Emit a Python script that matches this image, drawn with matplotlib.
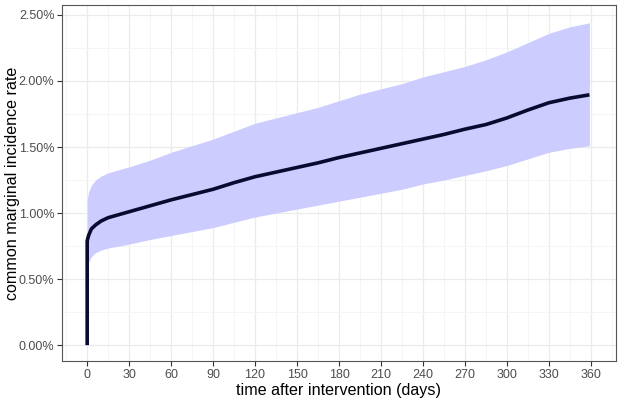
import numpy as np
from matplotlib import pyplot as plt
from matplotlib.ticker import MultipleLocator, FuncFormatter

plt.rcParams['font.family'] = ['Liberation Sans', 'DejaVu Sans']

# mean curve (percent)
mean_days = [0, 0, 1, 3, 6, 10, 15, 20, 30, 45, 60, 75, 90, 105, 120, 135, 150, 165, 180,
             195, 210, 225, 240, 255, 270, 285, 300, 315, 330, 345, 359]
mean_rate = [0, 0.79, 0.83, 0.88, 0.91, 0.94, 0.965, 0.98, 1.01, 1.055, 1.10, 1.14, 1.18, 1.23, 1.275,
             1.31, 1.345, 1.38, 1.42, 1.455, 1.49, 1.525, 1.56, 1.595, 1.635, 1.67, 1.72, 1.78, 1.835, 1.87, 1.895]

# uncertainty band (percent)
band_days = [0, 1, 3, 6, 10, 15, 20, 30, 45, 60, 75, 90, 105, 120, 135, 150, 165, 180,
             195, 210, 225, 240, 255, 270, 285, 300, 315, 330, 345, 359]
band_low = [0.58, 0.63, 0.67, 0.70, 0.72, 0.735, 0.745, 0.765, 0.80, 0.83, 0.86, 0.89, 0.93, 0.97,
            1.00, 1.03, 1.06, 1.09, 1.12, 1.15, 1.18, 1.22, 1.25, 1.285, 1.32, 1.36, 1.41, 1.46, 1.49, 1.51]
band_high = [1.10, 1.16, 1.21, 1.25, 1.28, 1.305, 1.32, 1.35, 1.40, 1.46, 1.51, 1.56, 1.62, 1.68,
             1.72, 1.76, 1.80, 1.85, 1.90, 1.94, 1.98, 2.03, 2.07, 2.11, 2.16, 2.22, 2.29, 2.36, 2.41, 2.44]

fig = plt.figure(figsize=(6.23, 4.03), dpi=100)
ax = fig.add_axes([62/623, 42/403, 554/623, 356/403])

ax.fill_between(band_days, band_low, band_high, color='#ccccff', linewidth=0, zorder=2)
ax.plot(mean_days, mean_rate, color='#0a0a30', lw=2.6, solid_capstyle='butt', zorder=3)

ax.set_xlim(-18, 378)
ax.set_ylim(-0.12, 2.575)
ax.xaxis.set_major_locator(MultipleLocator(30))
ax.xaxis.set_minor_locator(MultipleLocator(15))
ax.yaxis.set_major_locator(MultipleLocator(0.5))
ax.yaxis.set_minor_locator(MultipleLocator(0.25))
ax.yaxis.set_major_formatter(FuncFormatter(lambda v, p: '%.2f%%' % v))

ax.grid(which='major', color='#ebebeb', lw=0.9, zorder=0)
ax.grid(which='minor', color='#f4f4f4', lw=0.6, zorder=0)
ax.set_axisbelow(True)
for s in ax.spines.values():
    s.set_color('#555555')
    s.set_linewidth(0.8)
ax.tick_params(which='major', length=3.5, color='#333333', labelcolor='#4d4d4d', labelsize=9, pad=2)
ax.tick_params(which='minor', length=0)

ax.set_xlabel('time after intervention (days)', fontsize=11.6, labelpad=2)
ax.set_ylabel('common marginal incidence rate', fontsize=11.6, labelpad=2)
ax.yaxis.set_label_coords(-0.075, 0.5)

plt.savefig('out.png', dpi=100)
